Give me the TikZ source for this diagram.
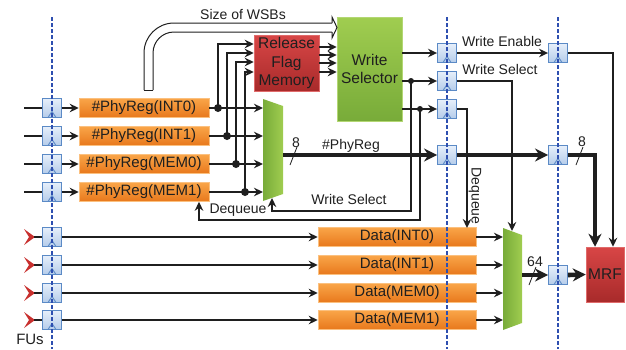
\documentclass[tikz,border=0pt]{standalone}
\usepackage{fontspec}
\setmainfont{Liberation Sans}
\usepackage{tikz}
\usetikzlibrary{arrows.meta}

\definecolor{linec}{HTML}{1F1F1F}
\definecolor{regedge}{HTML}{5B8AC6}
\definecolor{regtop}{HTML}{E6EFFA}
\definecolor{regbot}{HTML}{B5CCEA}
\definecolor{orgtop}{HTML}{F9A548}
\definecolor{orgbot}{HTML}{E8781C}
\definecolor{redtop}{HTML}{D84646}
\definecolor{redbot}{HTML}{A82A2A}
\definecolor{grntop}{HTML}{A0CD50}
\definecolor{grnbot}{HTML}{78AB39}
\definecolor{dashc}{HTML}{2E4FB0}
\definecolor{chevc}{HTML}{C8302E}

\tikzset{
  reg/.style={draw=regedge, line width=0.9pt, top color=regtop, bottom color=regbot,
    minimum width=19pt, minimum height=19pt, inner sep=0pt,
    path picture={\draw[regedge, line width=0.9pt]
      ([xshift=-4pt]path picture bounding box.south) -- ++(4pt,6pt) -- ++(4pt,-6pt);}},
  obox/.style={draw=orgtop!70!white, line width=0.5pt, top color=orgtop, bottom color=orgbot,
    minimum height=19pt, inner sep=0pt, text=linec, font=\fontsize{15}{18}\selectfont},
  rbox/.style={draw=redtop!80!white, line width=0.5pt, top color=redtop, bottom color=redbot,
    inner sep=0pt, text=linec, align=center, font=\fontsize{15.5}{18.5}\selectfont},
  gbox/.style={draw=grntop!80!white, line width=0.5pt, top color=grntop, bottom color=grnbot,
    inner sep=0pt, text=linec, align=center, font=\fontsize{15.5}{18}\selectfont},
  wire/.style={line width=2pt, draw=linec},
  sig/.style={line width=2pt, draw=linec, -{Stealth[length=9pt,width=8.5pt]}},
  bus/.style={line width=4.6pt, draw=linec, -{Stealth[length=13pt,width=13pt]}},
  lbl/.style={font=\fontsize{14}{16}\selectfont, text=linec},
  dashline/.style={draw=dashc, line width=1.3pt, dash pattern=on 3.5pt off 2.5pt}
}

\begin{document}
\begin{tikzpicture}[x=1pt, y=-1pt]
    \useasboundingbox (0,0) rectangle (626,349);

    \coordinate (m1nw) at (263,99);
    \coordinate (m1ne) at (283,106);
    \coordinate (m1se) at (283,194);
    \coordinate (m1sw) at (263,201);
    \coordinate (m1out) at (283,155);
    \coordinate (m1bot) at (272,198);

    \coordinate (m2nw) at (503,228);
    \coordinate (m2ne) at (522,235);
    \coordinate (m2se) at (522,323);
    \coordinate (m2sw) at (503,330);
    \coordinate (m2out) at (522,275);
    \coordinate (m2top) at (512,231);

    \shade[left color=grnbot, right color=grntop] (m1nw) -- (m1ne) -- (m1se) -- (m1sw) -- cycle;
    \shade[left color=grnbot, right color=grntop] (m2nw) -- (m2ne) -- (m2se) -- (m2sw) -- cycle;

    % registers
    \node[reg] (ri1) at (52,108) {};
    \node[reg] (ri2) at (52,136) {};
    \node[reg] (ri3) at (52,164) {};
    \node[reg] (ri4) at (52,192) {};
    \node[reg] (ri5) at (52,237) {};
    \node[reg] (ri6) at (52,265) {};
    \node[reg] (ri7) at (52,293) {};
    \node[reg] (ri8) at (52,320) {};

    \node[reg] (rm1) at (447,53) {};
    \node[reg] (rm2) at (447,81) {};
    \node[reg] (rm3) at (447,109) {};
    \node[reg] (rm4) at (447,155) {};

    \node[reg] (ro1) at (558,53) {};
    \node[reg] (ro2) at (558,155) {};
    \node[reg] (ro3) at (558,275) {};

    % queues
    \node[obox, minimum width=130pt] (q1) at (144,108) {\#PhyReg(INT0)};
    \node[obox, minimum width=130pt] (q2) at (144,136) {\#PhyReg(INT1)};
    \node[obox, minimum width=130pt] (q3) at (144,164) {\#PhyReg(MEM0)};
    \node[obox, minimum width=130pt] (q4) at (144,192) {\#PhyReg(MEM1)};

    \node[obox, minimum width=158pt] (d1) at (397,237) {Data(INT0)};
    \node[obox, minimum width=158pt] (d2) at (397,265) {Data(INT1)};
    \node[obox, minimum width=158pt] (d3) at (397,293) {Data(MEM0)};
    \node[obox, minimum width=158pt] (d4) at (397,320) {Data(MEM1)};

    \node[rbox, minimum width=65pt, minimum height=56pt] (rfm) at (286.5,63) {Release\\Flag\\Memory};
    \node[gbox, minimum width=65pt, minimum height=104pt] (ws) at (369.5,69) {Write\\Selector};
    \node[rbox, minimum width=38pt, minimum height=55pt] (mrf) at (605,274.5) {MRF};

    % inputs
    \coordinate (in1) at (24,108);
    \coordinate (in2) at (24,136);
    \coordinate (in3) at (24,164);
    \coordinate (in4) at (24,192);
    \draw[wire] (in1) -- (ri1.west);
    \draw[wire] (in2) -- (ri2.west);
    \draw[wire] (in3) -- (ri3.west);
    \draw[wire] (in4) -- (ri4.west);

    \fill[chevc] (24,229) -- (35,237) -- (24,245) -- (29,237) -- cycle;
    \fill[chevc] (24,257) -- (35,265) -- (24,273) -- (29,265) -- cycle;
    \fill[chevc] (24,285) -- (35,293) -- (24,301) -- (29,293) -- cycle;
    \fill[chevc] (24,312) -- (35,320) -- (24,328) -- (29,320) -- cycle;
    \coordinate (fu1) at (34,237);
    \coordinate (fu2) at (34,265);
    \coordinate (fu3) at (34,293);
    \coordinate (fu4) at (34,320);
    \draw[wire] (fu1) -- (ri5.west);
    \draw[wire] (fu2) -- (ri6.west);
    \draw[wire] (fu3) -- (ri7.west);
    \draw[wire] (fu4) -- (ri8.west);

    \draw[sig] (ri1.east) -- (q1.west);
    \draw[sig] (ri2.east) -- (q2.west);
    \draw[sig] (ri3.east) -- (q3.west);
    \draw[sig] (ri4.east) -- (q4.west);
    \draw[sig] (ri5.east) -- (d1.west);
    \draw[sig] (ri6.east) -- (d2.west);
    \draw[sig] (ri7.east) -- (d3.west);
    \draw[sig] (ri8.east) -- (d4.west);

    % queues to mux and release flag memory
    \draw[sig] (q1.east) -- (q1.east -| m1nw);
    \draw[sig] (q2.east) -- (q2.east -| m1nw);
    \draw[sig] (q3.east) -- (q3.east -| m1nw);
    \draw[sig] (q4.east) -- (q4.east -| m1nw);

    \coordinate (c1) at (218,108);
    \coordinate (c2) at (227,136);
    \coordinate (c3) at (236,164);
    \coordinate (c4) at (245,192);
    \draw[sig] (c1) |- ([yshift=19pt]rfm.west);
    \draw[sig] (c2) |- ([yshift=10pt]rfm.west);
    \draw[sig] (c3) |- ([yshift=1pt]rfm.west);
    \draw[sig] (c4) |- ([yshift=-9pt]rfm.west);
    \fill[linec] (c1) circle (4pt);
    \fill[linec] (c2) circle (4pt);
    \fill[linec] (c3) circle (4pt);
    \fill[linec] (c4) circle (4pt);

    \draw[sig] ([yshift=16pt]rfm.east) -- ([yshift=16pt]rfm.east -| ws.west);
    \draw[sig] ([yshift=8pt]rfm.east) -- ([yshift=8pt]rfm.east -| ws.west);
    \draw[sig] (rfm.east) -- (rfm.east -| ws.west);
    \draw[sig] ([yshift=-9pt]rfm.east) -- ([yshift=-9pt]rfm.east -| ws.west);

    % size of WSBs
    \draw[linec, line width=1pt, rounded corners=30pt] (144,90) -- (144,23) -- (332,23);
    \draw[linec, line width=1pt, rounded corners=21pt] (153,90) -- (153,32) -- (332,32);
    \draw[linec, line width=1pt] (144,90) -- (153,90);
    \draw[linec, line width=1pt, line join=miter] (332,23) -- (332,17) -- (337,27.5) -- (332,38) -- (332,32);
    \node[lbl] (sizelbl) at (243,14) {Size of WSBs};

    % write selector outputs
    \draw[sig] (ws.east |- rm1) -- (rm1.west);
    \draw[sig] (ws.east |- rm2) -- (rm2.west);
    \draw[sig] (ws.east |- rm3) -- (rm3.west);
    \node[lbl] (welbl) at (502,41) {Write Enable};
    \node[lbl] (wslbl) at (500,69) {Write Select};

    \coordinate (ja) at (411,81);
    \coordinate (jb) at (420,109);
    \coordinate (wsback) at (272,211);
    \coordinate (dqback) at (199,220);
    \draw[sig] (ja) |- (wsback) -- (m1bot);
    \draw[sig] (jb) |- (dqback) -- (q4.south -| dqback);
    \fill[linec] (ja) circle (3pt);
    \fill[linec] (jb) circle (3pt);
    \node[lbl] (wsblbl) at (349,199) {Write Select};
    \node[lbl] (dqlbl) at (238,210) {Dequeue};

    \coordinate (dqtop) at (467,228);
    \draw[sig] (rm1.east) -- (ro1.west);
    \draw[sig] (rm2.east) -| (m2top);
    \draw[sig] (rm3.east) -| (dqtop);
    \draw[sig] (ro1.east) -| ([xshift=8pt]mrf.north);
    \node[lbl, rotate=-90] (dqvlbl) at (475,196) {Dequeue};

    % data to mux
    \draw[sig] (d1.east) -- (d1.east -| m2nw);
    \draw[sig] (d2.east) -- (d2.east -| m2nw);
    \draw[sig] (d3.east) -- (d3.east -| m2nw);
    \draw[sig] (d4.east) -- (d4.east -| m2nw);

    % buses
    \draw[linec, line width=0.8pt] (290,165) -- (297,147);
    \draw[linec, line width=0.8pt] (576,165) -- (583,147);
    \draw[linec, line width=0.8pt] (529,285) -- (536,267);
    \draw[bus] (m1out) -- (rm4.west);
    \draw[bus] (rm4.east) -- (ro2.west);
    \draw[bus] (ro2.east) -| ([xshift=-10pt]mrf.north);
    \draw[bus] (m2out) -- (ro3.west);
    \draw[bus] (ro3.east) -- (mrf.west);
    \node[lbl] (w1) at (296,143) {8};
    \node[lbl] (w2) at (582,142) {8};
    \node[lbl] (w3) at (535,262) {64};
    \node[lbl] (prlbl) at (351,146) {\#PhyReg};

    \node[lbl, font=\fontsize{15}{17}\selectfont] (fulbl) at (30,339) {FUs};

    % pipeline stages
    \draw[dashline] (52,17) -- (52,349);
    \draw[dashline] (447,17) -- (447,349);
    \draw[dashline] (558,17) -- (558,349);

  \end{tikzpicture}
\end{document}
